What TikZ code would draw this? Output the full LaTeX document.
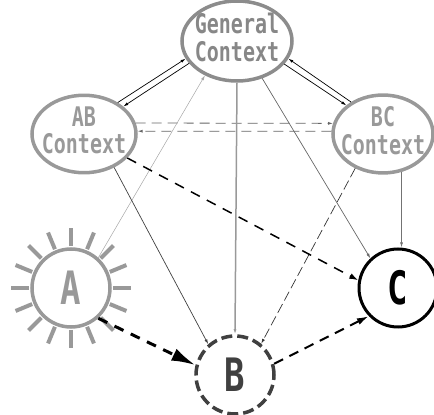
\documentclass[tikz,border=0pt]{standalone}
\usepackage{fontspec}
\usepackage{xcolor}
\usepackage{tikz}
\usetikzlibrary{arrows.meta,calc,shapes.geometric}
\newfontfamily\diafont[FakeStretch=0.74]{DejaVu Sans Mono Bold}
\newcommand{\twoline}[2]{\makebox[0pt]{\begin{tabular}{@{}c@{}}#1\\#2\end{tabular}}}

\begin{document}
\begin{tikzpicture}[x=1pt,y=1pt,
  ctx/.style={ellipse,draw=gray!80,line width=3.5pt,text=gray!80,inner sep=0pt,
    font=\diafont\fontsize{27}{25}\selectfont},
  agent/.style={circle,minimum size=78pt,inner sep=0pt,line width=3.5pt,
    font=\diafont\fontsize{46}{46}\selectfont},
  tip/.style={-{Latex[length=5pt,width=3pt]}}]
\useasboundingbox (0,0) rectangle (434,415);
\node[ctx,minimum width=110pt,minimum height=80pt,draw=black!45,text=black!47] (gen) at (237,374) {\twoline{General}{Context}};
\node[ctx,minimum width=104pt,minimum height=75pt] (ab) at (84,281) {\twoline{AB}{Context}};
\node[ctx,minimum width=100pt,minimum height=75pt] (bc) at (383,281) {\twoline{BC}{Context}};
\node[agent,draw=gray!80,text=gray!80] (A) at (71,127) {A};
\node[agent,draw=black!75,text=black!75,dash pattern=on 11pt off 5pt] (B) at (235,40) {B};
\node[agent,draw=black,line width=3pt] (C) at (398,127) {C};
% rays round A
\foreach \a in {0,22.5,...,337.5}
  \draw[gray!80,line width=4pt] (A.center) ++(\a:42pt) -- ++(\a:18pt);
% context links
\draw[tip,line width=0.7pt] (ab.43) -- (gen.199);
\draw[tip,line width=0.7pt] (gen.205) -- (ab.35);
\draw[tip,line width=0.7pt] (bc.135) -- (gen.341);
\draw[tip,line width=0.7pt] (gen.334) -- (bc.142);
\draw[tip,black!60,line width=0.8pt,dash pattern=on 10pt off 6pt] (ab.12) -- (bc.168);
\draw[tip,black!60,line width=0.8pt,dash pattern=on 10pt off 6pt] (bc.177) -- (ab.3);
% links to the agents
\draw[tip,black!35,line width=0.5pt] (A.48) -- (gen.227);
\draw[tip,black!75,line width=0.7pt] (ab.312) -- (B.131);
\draw[tip,gray!80,line width=1.5pt] (gen.south) -- (B.north);
\draw[tip,black!60,line width=0.7pt] (gen.304) -- (C.133);
\draw[tip,black!55,line width=0.8pt] (bc.296) -- (bc.296 |- C.north);
\draw[tip,black!80,line width=0.7pt,dash pattern=on 10pt off 4pt] (bc.231) -- (B.50);
\draw[-{Latex[length=9pt,width=6pt]},line width=1.5pt,dash pattern=on 10pt off 8pt] (ab.331) -- (C.169);
\draw[-{Latex[length=24pt,width=13pt]},line width=3pt,dash pattern=on 10pt off 8pt] (A.312) -- (B.166);
\draw[-{Latex[length=12pt,width=7pt]},line width=2pt,dash pattern=on 10pt off 7pt] (B.16) -- (C.224);
\end{tikzpicture}
\end{document}
